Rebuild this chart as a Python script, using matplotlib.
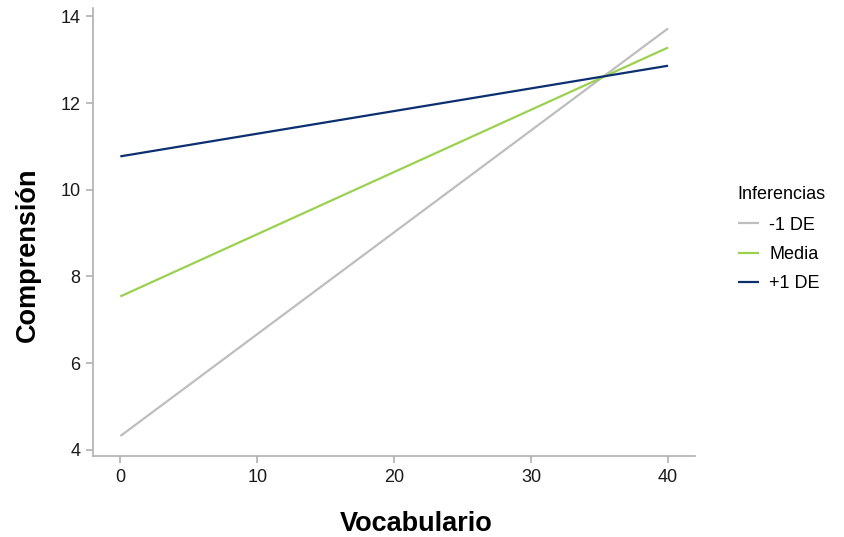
import numpy as np
import matplotlib
matplotlib.use("Agg")
import matplotlib.pyplot as plt

plt.rcParams['font.family'] = ['Liberation Sans', 'DejaVu Sans']

vocab = [0, 40]
groups = ['-1 DE', 'Media', '+1 DE']
comp_low = [4.32, 13.72]
comp_mid = [7.54, 13.28]
comp_high = [10.77, 12.86]
colors = ['#bebebe', '#9ad24f', '#0c2f70']

fig = plt.figure(figsize=(8.45, 5.37), dpi=100)
ax = fig.add_axes([0.110, 0.150, 0.713, 0.835])

for vals, lab, c in zip([comp_low, comp_mid, comp_high], groups, colors):
    ax.plot(vocab, vals, color=c, lw=1.6, label=lab, solid_capstyle='butt')

ax.set_xlim(-2, 42)
ax.set_ylim(3.85, 14.19)
ax.set_xticks([0, 10, 20, 30, 40])
ax.set_yticks([4, 6, 8, 10, 12, 14])

for s in ['top', 'right']:
    ax.spines[s].set_visible(False)
for s in ['left', 'bottom']:
    ax.spines[s].set_color('#b0b0b0')
    ax.spines[s].set_linewidth(1.2)
ax.tick_params(colors='#b0b0b0', labelcolor='#1a1a1a', labelsize=13,
               length=5, width=1.2, pad=4)

ax.set_xlabel('Vocabulario', fontsize=19.5, fontweight='bold', labelpad=18)
ax.set_ylabel('Comprensión', fontsize=19.5, fontweight='bold', labelpad=14)
ax.xaxis.label.set_x(0.537)
ax.yaxis.label.set_y(0.45)

leg = ax.legend(title='Inferencias', loc='center left', bbox_to_anchor=(1.07, 0.485),
                frameon=False, fontsize=13, title_fontsize=13, borderpad=0,
                borderaxespad=0, handlelength=1.2, handletextpad=0.55,
                labelspacing=0.68)
leg._legend_box.align = 'left'
leg._legend_box.sep = 10

fig.savefig('out.png', dpi=100)
